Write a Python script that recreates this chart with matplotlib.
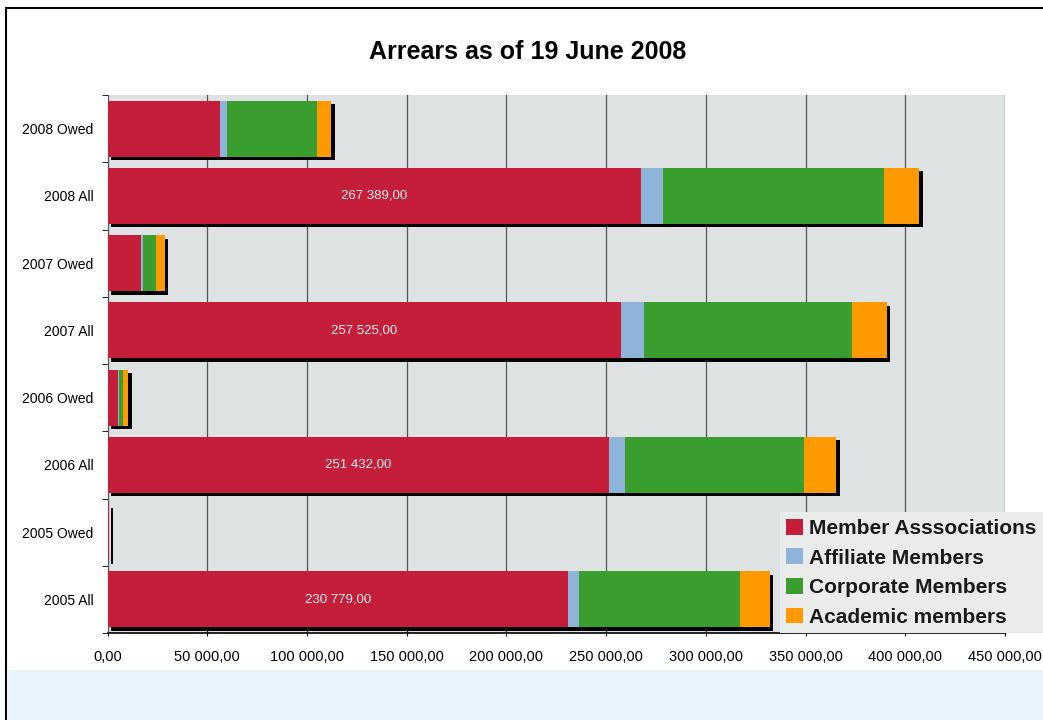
import matplotlib
matplotlib.use("Agg")
import matplotlib.pyplot as plt
import matplotlib.patheffects as pe
from matplotlib.patches import Rectangle
import numpy as np

plt.rcParams['font.family'] = ['Liberation Sans', 'DejaVu Sans']

# data, top to bottom as in the picture
categories = ["2008 Owed", "2008 All", "2007 Owed", "2007 All",
              "2006 Owed", "2006 All", "2005 Owed", "2005 All"]
member_assoc = [56400, 267389, 16600, 257525, 5400, 251432, 1000, 230779]
affiliate = [3600, 11300, 1000, 11400, 500, 8100, 0, 5700]
corporate = [45100, 110700, 6700, 104500, 2000, 89800, 0, 80700]
academic = [7200, 17700, 4500, 17400, 2500, 16000, 0, 15000]
labelled = [False, True, False, True, False, True, False, True]

series = [("Member Asssociations", member_assoc, "#c41e3a"),
          ("Affiliate Members", affiliate, "#8fb4d9"),
          ("Corporate Members", corporate, "#3a9e2e"),
          ("Academic members", academic, "#ff9900")]

xticks = np.arange(0, 450001, 50000)


def fmt(v):
    s = "{:,.2f}".format(v)
    return s.replace(",", " ").replace(".", ",")


fig = plt.figure(figsize=(10.43, 7.2), dpi=100)
fig.patch.set_facecolor("white")

# blue strip at the bottom and the frame
fig.add_artist(Rectangle((8 / 1043, 0), 1 - 8 / 1043, 50 / 720,
                         transform=fig.transFigure, facecolor="#e8f5fc",
                         edgecolor="none", zorder=0))
fig.add_artist(Rectangle((6 / 1043, -0.01), 1.1, 1 - 8 / 720 + 0.01,
                         transform=fig.transFigure, facecolor="none",
                         edgecolor="black", linewidth=1.5, zorder=1))

ax = fig.add_axes([107.5 / 1043, 1 - 633 / 720, (1005 - 107.5) / 1043, (633 - 95) / 720])
ax.set_facecolor("#dfe2e2")

y = np.arange(len(categories))
height = 0.83
left = np.zeros(len(categories))
shadow = [pe.SimplePatchShadow(offset=(2.5, -2.5), shadow_rgbFace="black", alpha=1.0), pe.Normal()]
for name, vals, col in series:
    vals = np.array(vals, dtype=float)
    bars = ax.barh(y, vals, left=left, height=height, color=col, label=name,
                   zorder=3, linewidth=0)
    for b in bars:
        b.set_path_effects(shadow)
    left += vals

for i, v in enumerate(member_assoc):
    if labelled[i]:
        ax.text(v / 2, y[i], fmt(v), color="#fbeef0", ha="center", va="center",
                fontsize=9.5, zorder=5)

ax.set_ylim(len(categories) - 0.5, -0.5)
ax.set_xlim(0, 450000)
ax.set_yticks(y)
ax.set_yticklabels(categories, fontsize=10)
ax.set_yticks(np.arange(-0.5, len(categories), 1), minor=True)
ax.tick_params(axis="y", which="major", length=0, pad=10)
ax.tick_params(axis="y", which="minor", length=4, direction="out")
ax.set_xticks(xticks)
ax.set_xticklabels([fmt(v) for v in xticks], fontsize=10.5)
ax.tick_params(axis="x", length=5, direction="inout", pad=10)

ax.grid(axis="x", color="#555555", linewidth=0.9, zorder=1)
ax.set_axisbelow(True)
for s in ["top", "right"]:
    ax.spines[s].set_visible(False)
ax.spines["left"].set_color("#555555")
ax.spines["bottom"].set_color("black")
ax.spines["bottom"].set_linewidth(1.2)

fig.text(528 / 1043, 1 - 52 / 720, "Arrears as of 19 June 2008", fontsize=18,
         fontweight="bold", ha="center", va="center")

leg = ax.legend(loc="lower right", bbox_to_anchor=(1043 / 1043, 1 - 633 / 720),
                bbox_transform=fig.transFigure, frameon=True, fancybox=False,
                prop={"size": 15, "weight": "bold"}, handlelength=0.8,
                handleheight=0.8, handletextpad=0.3, labelspacing=0.5,
                borderpad=0.3, borderaxespad=0)
leg.get_frame().set_facecolor("#eaeceb")
leg.get_frame().set_edgecolor("none")
leg.get_frame().set_alpha(1)
for h in leg.legend_handles:
    h.set_path_effects([])
for t in leg.get_texts():
    t.set_color("#1a1a1a")
leg.set_zorder(10)

fig.savefig("out.png", dpi=100)
